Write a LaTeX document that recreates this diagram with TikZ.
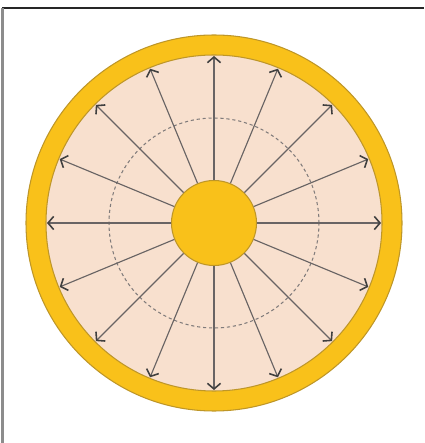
\documentclass[tikz,border=0pt]{standalone}
\usepackage{tikz}
\usetikzlibrary{arrows.meta, calc}
\definecolor{anel}{RGB}{249,193,26}
\definecolor{anelborda}{RGB}{190,150,40}
\definecolor{pessego}{RGB}{248,224,206}
\definecolor{raio}{RGB}{105,100,100}
\begin{document}
\begin{tikzpicture}[x=0.02cm, y=0.02cm]
    \useasboundingbox (0,0) rectangle (424,443);
    % Moldura (topo e lado esquerdo)
    \draw[line width=0.9pt, black!85] (2.5,435) -- (424,435);
    \draw[line width=1.2pt, black!45] (2.5,0) -- (2.5,435);
    % Anel externo e interior
    \draw[fill=anel, draw=anelborda, line width=0.6pt] (214,220) circle (188);
    \draw[fill=pessego, draw=anelborda, line width=0.6pt] (214,220) circle (168);
    % Circulo tracejado
    \draw[raio!85, line width=0.6pt, dash pattern=on 1.8pt off 1.6pt] (214,220) circle (105);
    % Nucleo central
    \node[circle, fill=anel, draw=anelborda, line width=0.6pt,
          minimum size=85*0.02cm, inner sep=0pt] (nucleo) at (214,220) {};
    % Raios com setas
    \foreach \a [count=\i] in {0,22.5,...,337.5}
      \coordinate (ponta\i) at ($(214,220)+(\a:167)$);
    \foreach \i in {1,...,16}
      \draw[-{Straight Barb[length=3.2pt, width=7.5pt, line width=0.9pt, color=black!75]},
            raio, line width=0.65pt]
        (nucleo) -- (ponta\i);
\end{tikzpicture}
\end{document}
